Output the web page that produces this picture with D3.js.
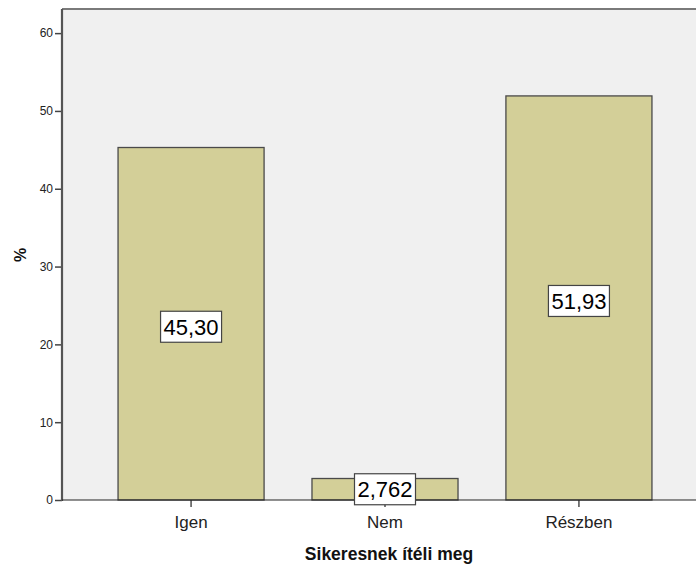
<!DOCTYPE html>
<html><head><meta charset="utf-8">
<script src="https://cdn.jsdelivr.net/npm/d3@7"></script>
<style>body{margin:0;background:#fff}svg{display:block}text{font-family:Arial,"Liberation Sans",sans-serif}</style>
</head><body>
<svg id="c" width="696" height="564"></svg>
<script>
const categories = ["Igen", "Nem", "Részben"];
const values = [45.30, 2.762, 51.93];
const valueLabels = ["45,30", "2,762", "51,93"];
const yTicks = [0, 10, 20, 30, 40, 50, 60];
const xTitle = "Sikeresnek ítéli meg";
const yTitle = "%";

const svg = d3.select("#c");
const pL = 62, pR = 708, pT = 9, pB = 500;
const x = d3.scaleBand().domain(categories).range([pL, pR]).paddingInner(0.247).paddingOuter(0.289);
const y = d3.scaleLinear().domain([0, 63.1]).range([pB, pT]);

svg.append("rect").attr("x", pL).attr("y", pT).attr("width", pR - pL).attr("height", pB - pT).attr("fill", "#f0f0f0");
svg.append("line").attr("x1", pL).attr("x2", pR).attr("y1", pT).attr("y2", pT).attr("stroke", "#7a7a7a").attr("stroke-width", 2);

svg.selectAll("rect.bar").data(categories).enter().append("rect").attr("class", "bar")
  .attr("x", d => x(d)).attr("width", x.bandwidth())
  .attr("y", (d, i) => y(values[i])).attr("height", (d, i) => y(0) - y(values[i]))
  .attr("fill", "#d3cf98").attr("stroke", "#4a4a4a").attr("stroke-width", 1.3);

// y axis
const ya = svg.append("g").attr("transform", `translate(${pL},0)`)
  .call(d3.axisLeft(y).tickValues(yTicks).tickSize(7).tickPadding(2).tickFormat(d3.format("d")));
ya.select(".domain").remove();
ya.selectAll(".tick line").attr("stroke", "#444").attr("stroke-width", 1.5);
ya.selectAll(".tick text").attr("font-size", 12).attr("fill", "#222").attr("font-family", "Arial, 'Liberation Sans', sans-serif");
svg.append("line").attr("x1", pL).attr("x2", pL).attr("y1", pT).attr("y2", pB + 1).attr("stroke", "#555").attr("stroke-width", 2.2);

// x axis
const xa = svg.append("g").attr("transform", `translate(0,${pB})`)
  .call(d3.axisBottom(x).tickSize(7).tickPadding(9));
xa.select(".domain").remove();
xa.selectAll(".tick line").attr("stroke", "#333").attr("stroke-width", 1.3);
xa.selectAll(".tick text").attr("font-size", 17).attr("fill", "#222").attr("font-family", "Arial, 'Liberation Sans', sans-serif");
svg.append("line").attr("x1", pL).attr("x2", pR).attr("y1", pB).attr("y2", pB).attr("stroke", "#222").attr("stroke-width", 1.2);

// value labels
const lg = svg.selectAll("g.vl").data(categories).enter().append("g").attr("class", "vl")
  .attr("transform", (d, i) => `translate(${x(d) + x.bandwidth() / 2},${(y(values[i]) + y(0)) / 2 + (values[i] > 10 ? 3 : 0)})`);
lg.append("rect").attr("x", -30.5).attr("y", -15.5).attr("width", 61).attr("height", 31)
  .attr("fill", "#fff").attr("stroke", "#444").attr("stroke-width", 1.2);
lg.append("text").text((d, i) => valueLabels[i]).attr("text-anchor", "middle").attr("dy", "0.36em")
  .attr("font-size", 22).attr("fill", "#000");

// titles
svg.append("text").text(xTitle).attr("x", 389).attr("y", 560).attr("text-anchor", "middle")
  .attr("font-size", 17.5).attr("font-weight", "bold").attr("fill", "#111");
svg.append("text").text(yTitle).attr("transform", "translate(26,255) rotate(-90)").attr("text-anchor", "middle")
  .attr("font-size", 16).attr("font-weight", "bold").attr("fill", "#111");
</script>
</body></html>
